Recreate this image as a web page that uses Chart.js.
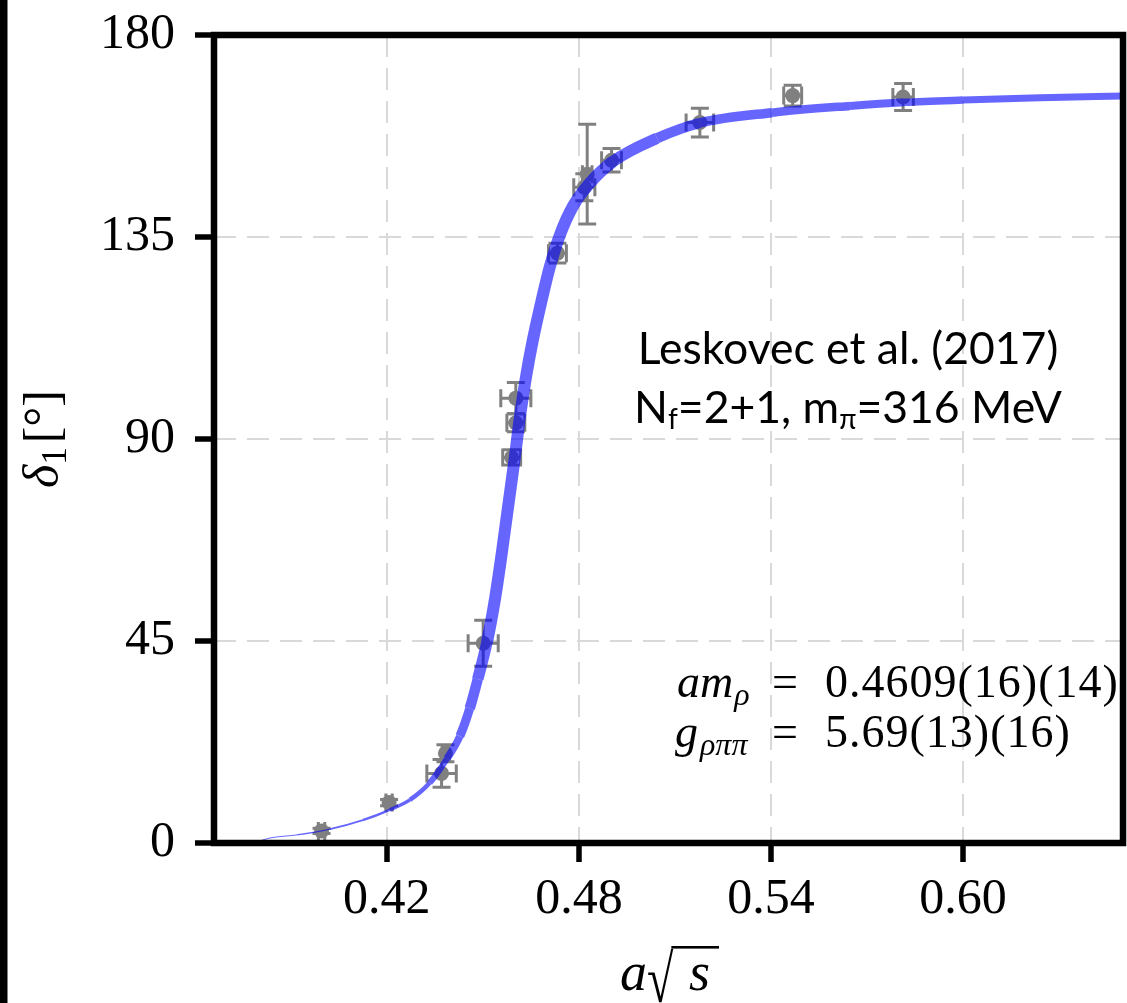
<!DOCTYPE html>
<html><head><meta charset="utf-8">
<script src="https://cdn.jsdelivr.net/npm/chart.js@4.4.0/dist/chart.umd.min.js"></script>
<style>html,body{margin:0;padding:0;background:#fff;overflow:hidden}#wrap{width:1127px;height:1003px;position:relative}</style>
</head><body><div id="wrap"><canvas id="c" width="1127" height="1003"></canvas></div>
<script>
// ---- data ----
const pointX    = [0.3996, 0.4207, 0.4383, 0.4371, 0.4501, 0.4603, 0.4603, 0.4590, 0.4733, 0.4826, 0.4817, 0.4902, 0.5178, 0.5468, 0.5813];
const pointY    = [2.7, 9.0, 20.0, 15.5, 44.5, 99.1, 93.6, 85.9, 131.4, 149.0, 146.1, 152.1, 160.5, 166.5, 166.2];
const pointXErr = [0.001, 0.001, 0.001, 0.0046, 0.0047, 0.0047, 0.0028, 0.0028, 0.0028, 0.0015, 0.0033, 0.0031, 0.0043, 0.0028, 0.0032];
const pointYErr = [0.6, 0.7, 1.9, 3.1, 5.1, 3.5, 2.0, 1.7, 2.2, 11.1, 3.0, 2.6, 3.2, 2.3, 3.0];

const fitX = [0.3788, 0.3834, 0.3919, 0.4022, 0.4125, 0.4209, 0.4272, 0.4334, 0.4388, 0.4428, 0.4459, 0.4484,
              0.4513, 0.4538, 0.4559, 0.4578, 0.4600, 0.4616, 0.4634, 0.4656, 0.4684, 0.4709, 0.4741, 0.4781,
              0.4834, 0.4906, 0.5044, 0.5178, 0.5403, 0.5647, 0.5816, 0.6000, 0.6241, 0.6500];
const fitY = [0.1, 1.1, 1.8, 3.1, 5.1, 7.4, 9.6, 13.4, 18.8, 23.8, 30.0, 36.5,
              44.8, 54.4, 64.5, 74.5, 86.0, 95.0, 103.5, 112.0, 121.0, 128.3, 135.5, 141.8,
              147.0, 151.8, 157.0, 160.4, 162.7, 164.2, 165.0, 165.5, 166.0, 166.4];

const xTicks = [0.42, 0.48, 0.54, 0.60];
const yTicks = [0, 45, 90, 135, 180];
const xRange = [0.366, 0.65];
const yRange = [0, 180];

const annotTitle = ['Leskovec et al. (2017)'];
const annotParams = ['0.4609(16)(14)', '5.69(13)(16)'];

// ---- styles ----
const bandWidths = [1,1,1.3,1.8,2.5,3.5,4.5,6,7.5,9,10.5,11.5,12,12,12,12,12,12,12,12,12,12,12,12,12,11.5,10.5,9.5,8.5,8,7.5,7,7,7];
const SERIF = '"Liberation Serif", "DejaVu Serif", serif';
const SANS = 'Lato, "Open Sans", sans-serif';
const CAP = 9;

function runsWidth(ctx, runs){ let w=0; for(const r of runs){ctx.font=r.font; w+=ctx.measureText(r.t).width+(r.dx||0);} return w; }
function drawRuns(ctx, runs, x, y){ for(const r of runs){ctx.font=r.font; ctx.fillText(r.t, x, y+(r.dy||0)); x+=ctx.measureText(r.t).width+(r.dx||0);} return x; }

const decor = {
  id: 'decor',
  beforeDatasetsDraw(chart){
    const {ctx, chartArea:a, scales:{x,y}} = chart;
    ctx.save();
    ctx.beginPath(); ctx.rect(a.left,a.top,a.right-a.left,a.bottom-a.top); ctx.clip();
    ctx.strokeStyle='#808080'; ctx.lineWidth=3; ctx.lineCap='butt';
    for(let i=0;i<pointX.length;i++){
      const px=x.getPixelForValue(pointX[i]), py=y.getPixelForValue(pointY[i]);
      const x0=x.getPixelForValue(pointX[i]-pointXErr[i]), x1=x.getPixelForValue(pointX[i]+pointXErr[i]);
      const y0=y.getPixelForValue(pointY[i]-pointYErr[i]), y1=y.getPixelForValue(pointY[i]+pointYErr[i]);
      ctx.beginPath();
      ctx.moveTo(x0,py); ctx.lineTo(x1,py);
      ctx.moveTo(px,y0); ctx.lineTo(px,y1);
      ctx.moveTo(x0,py-CAP); ctx.lineTo(x0,py+CAP);
      ctx.moveTo(x1,py-CAP); ctx.lineTo(x1,py+CAP);
      ctx.moveTo(px-CAP,y0); ctx.lineTo(px+CAP,y0);
      ctx.moveTo(px-CAP,y1); ctx.lineTo(px+CAP,y1);
      ctx.stroke();
    }
    ctx.restore();
  },
  afterDatasetsDraw(chart){
    const {ctx, chartArea:a} = chart;
    ctx.save();
    ctx.fillStyle='#000'; ctx.textBaseline='alphabetic'; ctx.textAlign='left';
    const cx = 848;
    const l1=[{t:annotTitle[0], font:'44.5px '+SANS}];
    drawRuns(ctx,l1,cx-runsWidth(ctx,l1)/2,364);
    const l2=[{t:'N',font:'44.5px '+SANS},{t:'f',font:'28px '+SANS,dy:6},{t:'=2+1, m',font:'44.5px '+SANS},{t:'π',font:'28px '+SANS,dy:6},{t:'=316 MeV',font:'44.5px '+SANS}];
    drawRuns(ctx,l2,cx-runsWidth(ctx,l2)/2,423);
    ctx.font='italic 46px '+SERIF; ctx.fillText('am',677,697);
    let w=ctx.measureText('am').width;
    ctx.font='italic 32px '+SERIF; ctx.fillText('ρ',677+w+1,705);
    ctx.font='46px '+SERIF; ctx.fillText('=',772,697);
    ctx.save(); ctx.letterSpacing='1px'; ctx.fillText(annotParams[0],825,697); ctx.restore();
    ctx.font='italic 46px '+SERIF; ctx.fillText('g',675,747);
    w=ctx.measureText('g').width;
    ctx.font='italic 32px '+SERIF; ctx.fillText('ρππ',675+w+2,755);
    ctx.font='46px '+SERIF; ctx.fillText('=',772,747);
    ctx.save(); ctx.letterSpacing='1px'; ctx.fillText(annotParams[1],825,747); ctx.restore();
    ctx.strokeStyle='#000'; ctx.lineWidth=6.5; ctx.lineJoin='miter';
    ctx.strokeRect(a.left,a.top,a.right-a.left,a.bottom-a.top);
    ctx.restore();
  },
  afterDraw(chart){
    const {ctx, chartArea:a} = chart;
    ctx.save();
    ctx.fillStyle='#000';
    ctx.fillRect(0,0,7.5,1003);
    ctx.textBaseline='alphabetic';
    const by=990;
    ctx.font='italic 54px '+SERIF; ctx.fillText('a',620,by);
    ctx.save(); ctx.translate(647,by+12); ctx.scale(0.75,1.05);
    ctx.font='64px '+SERIF; ctx.fillText('√',0,0);
    const wr=ctx.measureText('√').width*0.75;
    ctx.restore();
    ctx.font='italic 54px '+SERIF; ctx.fillText('s',689,by);
    ctx.fillRect(647+wr-2, 946, 719-(647+wr-2), 2.6);
    ctx.translate(42,(a.top+a.bottom)/2); ctx.rotate(-Math.PI/2);
    const yr=[{t:'δ',font:'italic 50px '+SERIF},{t:'1',font:'35px '+SERIF,dy:8,dx:4},{t:'[',font:'50px '+SERIF},{t:'°',font:'50px '+SERIF},{t:']',font:'50px '+SERIF}];
    drawRuns(ctx,yr,-runsWidth(ctx,yr)/2,16);
    ctx.restore();
  }
};

new Chart(document.getElementById('c'),{
  type:'scatter',
  data:{datasets:[
    {type:'line', label:'fit', data:fitX.map((v,i)=>({x:v,y:fitY[i]})), borderColor:'rgba(0,0,255,0.6)', borderWidth:12,
     pointRadius:0, fill:false, cubicInterpolationMode:'monotone', order:0,
     segment:{borderWidth: c=>bandWidths[c.p0DataIndex]}},
    {type:'scatter', label:'data', data:pointX.map((v,i)=>({x:v,y:pointY[i]})), backgroundColor:'#808080', borderWidth:0, pointRadius:7.5, order:1}
  ]},
  options:{
    responsive:false, animation:false, devicePixelRatio:1,
    layout:{autoPadding:false, padding:{top:35,right:4,left:0,bottom:0}},
    plugins:{legend:{display:false},tooltip:{enabled:false}},
    scales:{
      x:{type:'linear',min:xRange[0],max:xRange[1],
        afterBuildTicks:s=>{s.ticks=xTicks.map(v=>({value:v}));},
        afterFit:s=>{s.height=160; s.paddingLeft=0; s.paddingRight=0;},
        ticks:{callback:v=>v.toFixed(2),color:'#000',font:{family:SERIF,size:50},padding:8,maxRotation:0,autoSkip:false},
        grid:{color:'#d9d9d9',lineWidth:2,drawTicks:true,tickLength:19,tickWidth:5.5,tickColor:'#000'},
        border:{display:false,dash:[22,11]}},
      y:{type:'linear',min:yRange[0],max:yRange[1],
        afterBuildTicks:s=>{s.ticks=yTicks.map(v=>({value:v}));},
        afterFit:s=>{s.width=214; s.paddingTop=0; s.paddingBottom=0;},
        ticks:{callback:v=>String(v),color:'#000',font:{family:SERIF,size:50},padding:20,autoSkip:false},
        grid:{color:'#d9d9d9',lineWidth:2,drawTicks:true,tickLength:19,tickWidth:5.5,tickColor:'#000'},
        border:{display:false,dash:[22,11]}}
    }
  },
  plugins:[decor]
});
</script></body></html>
